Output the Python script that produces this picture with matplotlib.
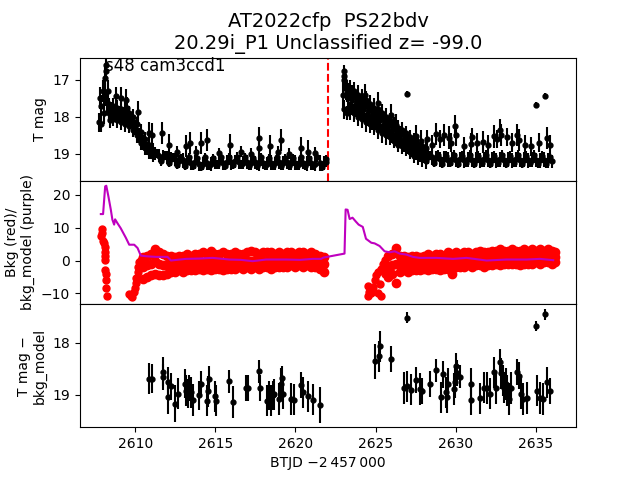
import numpy as np
import matplotlib.pyplot as plt

# ---- top panel: T mag light curve (dense band + brighter points) ----
lc_t = [2607.75, 2607.85, 2608.0, 2608.1, 2608.2, 2608.3, 2608.4, 2608.5, 2608.75, 2609.0,
        2609.25, 2609.5, 2609.75, 2610.0, 2610.25, 2610.5, 2610.75, 2611.0, 2611.25, 2611.5,
        2611.75, 2612.0, 2612.25, 2612.5, 2612.75, 2613.0, 2613.25, 2613.5, 2613.75, 2614.0,
        2614.25, 2614.5, 2614.75, 2615.0, 2615.25, 2615.5, 2615.75, 2616.0, 2616.25, 2616.5,
        2616.75, 2617.0, 2617.25, 2617.5, 2617.75, 2618.0, 2618.25, 2618.5, 2618.75, 2619.0,
        2619.25, 2619.5, 2619.75, 2620.0, 2620.25, 2620.5, 2620.75, 2621.0, 2621.25, 2621.5,
        2621.75, 2621.9,
        2622.95, 2623.05, 2623.15, 2623.3, 2623.5, 2623.75, 2624.0, 2624.25, 2624.5, 2624.75,
        2625.0, 2625.25, 2625.5, 2625.75, 2626.0, 2626.25, 2626.5, 2626.75, 2627.0, 2627.25,
        2627.5, 2627.75, 2628.0, 2628.25, 2628.5, 2628.75, 2629.0, 2629.25, 2629.5, 2629.75,
        2630.0, 2630.25, 2630.5, 2630.75, 2631.0, 2631.25, 2631.5, 2631.75, 2632.0, 2632.25,
        2632.5, 2632.75, 2633.0, 2633.25, 2633.5, 2633.75, 2634.0, 2634.25, 2634.5, 2634.75,
        2635.0, 2635.25, 2635.5, 2635.75, 2636.0]
lc_mag = [18.15, 17.7, 17.3, 16.95, 16.75, 17.3, 17.8, 17.85, 17.95, 17.9,
          18.0, 18.02, 18.1, 18.3, 18.5, 18.7, 18.85, 18.95, 19.0, 19.05,
          19.08, 19.1, 19.14, 19.15, 19.2, 19.18, 19.23, 19.25, 19.22, 19.28,
          19.27, 19.25, 19.28, 19.24, 19.22, 19.25, 19.21, 19.23, 19.2, 19.22,
          19.24, 19.22, 19.25, 19.23, 19.26, 19.24, 19.27, 19.24, 19.26, 19.23,
          19.25, 19.23, 19.26, 19.24, 19.27, 19.24, 19.26, 19.25, 19.27, 19.24,
          19.25, 19.22,
          17.4, 16.9, 17.2, 17.5, 17.55, 17.65, 17.75, 17.8, 17.9, 18.0,
          18.05, 18.1, 18.2, 18.3, 18.4, 18.5, 18.55, 18.65, 18.75, 18.85,
          18.92, 19.0, 19.05, 19.08, 19.1, 19.12, 19.15, 19.13, 19.16, 19.14,
          19.17, 19.15, 19.18, 19.15, 19.17, 19.16, 19.18, 19.15, 19.17, 19.16,
          19.18, 19.15, 19.17, 19.16, 19.18, 19.15, 19.17, 19.16, 19.18, 19.16,
          19.17, 19.18, 19.16, 19.18, 19.2]
lc_err = [0.25, 0.3, 0.3, 0.3, 0.2, 0.3, 0.3, 0.25, 0.2, 0.2,
          0.2, 0.2, 0.2, 0.2, 0.2, 0.2, 0.18, 0.18, 0.18, 0.18,
          0.18, 0.18, 0.18, 0.18, 0.18, 0.2, 0.18, 0.18, 0.2, 0.18,
          0.18, 0.2, 0.18, 0.18, 0.2, 0.18, 0.18, 0.2, 0.18, 0.18,
          0.18, 0.2, 0.18, 0.18, 0.2, 0.18, 0.18, 0.2, 0.18, 0.18,
          0.2, 0.18, 0.18, 0.2, 0.18, 0.18, 0.2, 0.18, 0.2, 0.22,
          0.18, 0.15,
          0.45, 0.2, 0.35, 0.4, 0.4, 0.35, 0.35, 0.35, 0.35, 0.35,
          0.3, 0.3, 0.3, 0.3, 0.3, 0.3, 0.3, 0.3, 0.25, 0.25,
          0.25, 0.22, 0.2, 0.2, 0.2, 0.2, 0.2, 0.2, 0.2, 0.2,
          0.2, 0.2, 0.2, 0.2, 0.2, 0.2, 0.2, 0.2, 0.2, 0.2,
          0.2, 0.2, 0.2, 0.2, 0.2, 0.2, 0.2, 0.2, 0.2, 0.2,
          0.2, 0.2, 0.2, 0.2, 0.18]

# extra cadences filling the thick parts of the band
fill_t = [2607.8, 2607.9, 2608.05, 2608.15, 2608.25, 2608.35, 2608.45,
          2608.625, 2608.625, 2608.875, 2608.875, 2609.125, 2609.125, 2609.375, 2609.375,
          2609.625, 2609.625, 2609.875, 2609.875, 2610.125, 2610.125, 2610.375, 2610.375,
          2610.625, 2610.625, 2610.875, 2610.875, 2611.125, 2611.125,
          2623.0, 2623.0, 2623.2, 2623.2, 2623.375, 2623.375, 2623.625, 2623.625,
          2623.875, 2623.875, 2624.125, 2624.125, 2624.375, 2624.375, 2624.625, 2624.625,
          2624.875, 2624.875, 2625.125, 2625.125, 2625.375, 2625.375, 2625.625, 2625.625,
          2625.875, 2625.875, 2626.125, 2626.125, 2626.375, 2626.375, 2626.625, 2626.625,
          2626.875, 2626.875, 2627.125, 2627.125, 2627.375, 2627.375, 2627.625, 2627.625,
          2627.875, 2627.875, 2628.125, 2628.125]
fill_mag = [17.5, 18.2, 17.9, 17.4, 17.6, 17.9, 18.1,
            18.05, 17.7, 18.1, 17.75, 18.15, 17.8, 18.2, 17.8,
            18.25, 17.9, 18.35, 18.0, 18.5, 18.2, 18.7, 18.4,
            18.85, 18.6, 18.95, 18.75, 19.05, 18.9,
            17.0, 17.8, 17.3, 17.9, 17.25, 17.85, 17.3, 17.9,
            17.4, 18.0, 17.5, 18.05, 17.55, 18.15, 17.65, 18.2,
            17.75, 18.25, 17.8, 18.35, 17.9, 18.45, 18.0, 18.5,
            18.1, 18.55, 18.2, 18.65, 18.3, 18.75, 18.35, 18.8,
            18.45, 18.85, 18.55, 18.95, 18.65, 19.05, 18.75, 19.1,
            18.8, 19.15, 18.85, 19.2]
fill_err = [0.3, 0.2, 0.3, 0.3, 0.3, 0.25, 0.2,
            0.2, 0.2, 0.2, 0.2, 0.2, 0.2, 0.2, 0.2,
            0.2, 0.2, 0.2, 0.2, 0.2, 0.2, 0.2, 0.2,
            0.18, 0.18, 0.18, 0.18, 0.18, 0.18,
            0.3, 0.25, 0.3, 0.2, 0.25, 0.25, 0.25, 0.25,
            0.25, 0.25, 0.25, 0.25, 0.25, 0.25, 0.25, 0.25,
            0.25, 0.25, 0.25, 0.25, 0.25, 0.25, 0.25, 0.25,
            0.2, 0.2, 0.2, 0.2, 0.2, 0.2, 0.2, 0.2,
            0.2, 0.2, 0.2, 0.2, 0.2, 0.2, 0.2, 0.2,
            0.2, 0.2, 0.2, 0.2]

# quiescent cadences in between (small errors)
quiet_t = [2611.375, 2611.625, 2611.875, 2612.125, 2612.375, 2612.625, 2612.875, 2613.125, 2613.375, 2613.625,
           2613.875, 2614.125, 2614.375, 2614.625, 2614.875, 2615.125, 2615.375, 2615.625, 2615.875, 2616.125,
           2616.375, 2616.625, 2616.875, 2617.125, 2617.375, 2617.625, 2617.875, 2618.125, 2618.375, 2618.625,
           2618.875, 2619.125, 2619.375, 2619.625, 2619.875, 2620.125, 2620.375, 2620.625, 2620.875, 2621.125,
           2621.375, 2621.625, 2621.875,
           2628.375, 2628.625, 2628.875, 2629.125, 2629.375, 2629.625, 2629.875, 2630.125, 2630.375, 2630.625,
           2630.875, 2631.125, 2631.375, 2631.625, 2631.875, 2632.125, 2632.375, 2632.625, 2632.875, 2633.125,
           2633.375, 2633.625, 2633.875, 2634.125, 2634.375, 2634.625, 2634.875, 2635.125, 2635.375, 2635.625,
           2635.875]
quiet_mag = [19.0, 19.2, 19.05, 19.25, 19.1, 19.3, 19.12, 19.32, 19.1, 19.33,
             19.12, 19.35, 19.1, 19.33, 19.12, 19.3, 19.1, 19.32, 19.1, 19.3,
             19.08, 19.3, 19.1, 19.32, 19.12, 19.33, 19.1, 19.32, 19.12, 19.33,
             19.1, 19.32, 19.12, 19.33, 19.12, 19.32, 19.1, 19.33, 19.12, 19.33,
             19.1, 19.35, 19.15,
             19.05, 19.25, 19.02, 19.27, 19.05, 19.25, 19.03, 19.27, 19.05, 19.25,
             19.03, 19.27, 19.05, 19.25, 19.03, 19.27, 19.05, 19.25, 19.03, 19.27,
             19.05, 19.25, 19.03, 19.27, 19.05, 19.25, 19.03, 19.27, 19.05, 19.27,
             19.1]
quiet_err = 0.12

spike_t = [2608.2, 2608.79, 2609.1, 2609.4, 2609.52, 2610.15, 2610.88, 2611.08, 2611.7, 2612.1,
           2613.2, 2613.4, 2614.1, 2614.5, 2615.9, 2617.75, 2617.75, 2618.4, 2619.1, 2620.35,
           2620.8,
           2612.6, 2613.8, 2615.2, 2616.6, 2617.2, 2618.9, 2619.6, 2621.2,
           2623.05, 2623.9, 2624.31, 2625.15, 2625.94, 2626.29, 2626.96, 2627.54, 2627.85, 2628.75,
           2629.25, 2629.58, 2629.94, 2630.0, 2630.98, 2631.71, 2632.38, 2632.75, 2632.85, 2633.79,
           2633.96, 2635.0, 2635.58, 2635.67,
           2628.2, 2628.5, 2629.0, 2629.7, 2630.5, 2631.0, 2631.3, 2632.0, 2632.6, 2633.2,
           2633.5, 2634.3, 2634.7, 2635.2, 2635.9]
spike_mag = [16.6, 17.45, 17.5, 17.55, 17.77, 17.86, 18.44, 18.48, 18.44, 18.76,
             18.8, 18.71, 18.71, 18.62, 18.76, 18.58, 18.85, 18.8, 18.62, 18.85,
             18.94,
             18.95, 18.95, 18.98, 18.95, 19.0, 18.95, 19.0, 18.97,
             16.75, 17.59, 17.41, 17.63, 17.95, 18.22, 17.38, 18.53, 18.65, 18.47,
             18.49, 18.56, 18.26, 18.49, 18.74, 18.69, 18.53, 18.35, 18.49, 18.49,
             18.62, 17.68, 17.43, 18.58,
             18.6, 18.75, 18.6, 18.7, 18.8, 18.55, 18.7, 18.75, 18.6, 18.55,
             18.7, 18.75, 18.8, 18.7, 18.75]
spike_err = [0.15, 0.25, 0.3, 0.3, 0.3, 0.3, 0.3, 0.3, 0.3, 0.3,
             0.3, 0.3, 0.3, 0.3, 0.3, 0.3, 0.3, 0.3, 0.3, 0.3,
             0.3,
             0.15, 0.15, 0.15, 0.15, 0.15, 0.15, 0.15, 0.15,
             0.15, 0.3, 0.3, 0.3, 0.3, 0.3, 0.08, 0.3, 0.3, 0.3,
             0.3, 0.3, 0.3, 0.3, 0.3, 0.3, 0.3, 0.3, 0.3, 0.3,
             0.3, 0.08, 0.08, 0.3,
             0.25, 0.25, 0.25, 0.25, 0.25, 0.25, 0.25, 0.25, 0.25, 0.25,
             0.25, 0.25, 0.25, 0.25, 0.25]

# ---- middle panel: background (red) ----
bkg_t = [2607.95, 2607.95, 2607.9, 2608.0, 2608.05, 2608.1, 2608.12, 2608.15, 2608.15, 2608.15,
         2608.2, 2608.2, 2608.2, 2608.25,
         2609.63, 2609.73, 2609.83, 2609.94, 2610.0, 2610.04, 2610.08, 2610.15, 2610.2, 2610.25,
         2610.35,
         2624.5, 2624.5, 2624.6, 2624.73, 2624.85, 2624.94, 2625.05, 2625.15, 2625.15, 2625.25,
         2625.35, 2625.35, 2625.45, 2625.56, 2625.56, 2625.65]
bkg_v = [9.5, 8.5, 7.4, 6.0, 5.2, 4.0, 2.7, 1.5, 0.3, -2.9,
         -4.0, -5.8, -8.3, -10.8,
         -10.3, -10.8, -11.2, -9.7, -8.2, -6.7, -5.2, -3.6, -2.1, -0.6,
         0.3,
         -7.8, -10.8, -9.5, -9.8, -8.0, -5.8, -4.5, -3.6, -10.0, -7.0,
         -10.8, -2.6, -1.0, 0.3, -4.0, -1.5]

band_t = [2610.5, 2610.75, 2611.0, 2611.25, 2611.5, 2611.75, 2612.0, 2612.25, 2612.5, 2612.75,
          2613.0, 2613.25, 2613.5, 2613.75, 2614.0, 2614.25, 2614.5, 2614.75, 2615.0, 2615.25,
          2615.5, 2615.75, 2616.0, 2616.25, 2616.5, 2616.75, 2617.0, 2617.25, 2617.5, 2617.75,
          2618.0, 2618.25, 2618.5, 2618.75, 2619.0, 2619.25, 2619.5, 2619.75, 2620.0, 2620.25,
          2620.5, 2620.75, 2621.0, 2621.25, 2621.5, 2621.75,
          2625.75, 2626.0, 2626.25, 2626.5, 2626.75, 2627.0, 2627.25, 2627.5, 2627.75, 2628.0,
          2628.25, 2628.5, 2628.75, 2629.0, 2629.25, 2629.5, 2629.75, 2630.0, 2630.25, 2630.5,
          2630.75, 2631.0, 2631.25, 2631.5, 2631.75, 2632.0, 2632.25, 2632.5, 2632.75, 2633.0,
          2633.25, 2633.5, 2633.75, 2634.0, 2634.25, 2634.5, 2634.75, 2635.0, 2635.25, 2635.5,
          2635.75, 2636.0, 2636.2]
band_hi = [1.0, 1.5, 2.0, 3.5, 2.5, 2.0, 1.5, 1.5, 1.0, 1.5,
           1.5, 2.0, 1.5, 2.0, 2.0, 2.5, 2.0, 3.0, 2.0, 2.0,
           2.5, 2.0, 2.0, 2.5, 2.0, 2.0, 2.5, 3.0, 2.5, 2.0,
           2.5, 2.5, 2.5, 2.0, 2.5, 2.0, 2.5, 2.5, 2.0, 2.5,
           2.5, 2.0, 2.5, 2.0, 1.5, 1.0,
           1.5, 2.0, 3.8, 1.5, 1.5, 1.0, 1.5, 1.5, 1.0, 1.5,
           2.0, 1.5, 2.0, 2.0, 1.5, 2.5, 2.0, 2.5, 2.0, 2.5,
           2.5, 2.0, 2.5, 3.0, 2.5, 2.5, 3.0, 3.0, 3.5, 3.0,
           3.0, 3.5, 3.0, 3.0, 3.5, 3.0, 3.5, 3.0, 3.5, 3.0,
           3.5, 3.0, 2.5]
band_mid = [-2.0, -1.5, -1.0, 0.0, -1.0, -1.5, -1.5, -1.0, -1.5, -1.0,
            -1.0, -0.5, -1.0, -0.5, -0.5, -0.5, 0.0, -0.5, -0.5, 0.0,
            -0.5, 0.0, -0.5, 0.0, 0.0, -0.5, 0.0, 0.0, 0.0, -0.5,
            0.0, 0.0, 0.0, 0.0, 0.5, 0.0, 0.0, 0.5, 0.0, 0.5,
            0.0, 0.5, 0.0, 0.0, -0.5, -1.0,
            -2.0, -1.5, -1.0, -1.0, -1.5, -1.0, -1.0, -0.5, -1.0, -0.5,
            -0.5, 0.0, -0.5, 0.0, -0.5, 0.0, -0.5, 0.0, 0.5, 0.0,
            0.5, 0.0, 0.5, 0.5, 0.0, 0.5, 1.0, 0.5, 1.0, 1.0,
            0.5, 1.0, 1.0, 1.0, 1.0, 1.0, 1.5, 1.0, 1.0, 1.5,
            1.0, 1.0, 1.0]
band_lo = [-5.5, -5.0, -4.5, -4.0, -4.5, -4.5, -4.0, -3.5, -3.5, -3.0,
           -3.5, -3.0, -3.0, -3.0, -2.5, -3.0, -2.5, -3.0, -2.5, -2.5,
           -3.0, -2.5, -2.5, -2.5, -2.0, -2.5, -2.0, -2.5, -2.0, -2.5,
           -2.0, -2.0, -2.5, -2.0, -2.0, -2.0, -2.0, -1.5, -2.0, -1.5,
           -2.0, -1.5, -2.0, -2.0, -2.5, -3.5,
           -5.0, -4.0, -6.8, -3.5, -3.0, -3.5, -3.0, -3.0, -3.0, -2.5,
           -3.0, -2.5, -2.5, -3.0, -2.5, -2.5, -4.2, -2.0, -2.0, -2.0,
           -1.5, -2.0, -1.5, -1.5, -2.0, -1.5, -1.5, -1.0, -1.5, -1.0,
           -1.0, -1.0, -1.0, -1.5, -1.0, -1.0, -1.0, -0.5, -1.0, -0.5,
           -0.5, -1.0, -0.5]

# background model (purple)
model_t = [2607.86, 2608.0, 2608.13, 2608.2, 2608.33, 2608.48, 2608.58, 2608.69, 2608.75, 2608.9,
           2609.1, 2609.42, 2609.63, 2609.94, 2610.15, 2610.35, 2610.67, 2611.29, 2612.02, 2612.23,
           2613.17, 2614.0, 2614.83, 2615.88, 2616.6, 2617.33, 2618.17, 2619.42, 2620.3, 2621.08,
           2621.6, 2621.75, 2623.06, 2623.13, 2623.25, 2623.38, 2623.56, 2623.77, 2623.94, 2624.2,
           2624.4, 2624.73, 2624.94, 2625.25, 2625.56, 2625.88, 2626.19, 2626.5, 2626.92, 2627.33,
           2627.75, 2628.79, 2629.83, 2630.67, 2631.92, 2633.17, 2634.42, 2635.25, 2636.08]
model_v = [14.1, 14.1, 22.5, 22.7, 19.5, 15.5, 12.4, 10.9, 12.5, 11.3,
           9.8, 6.9, 4.8, 4.8, 3.8, 1.5, 1.3, 1.1, 1.1, 0.0,
           0.5, 0.6, 0.8, 0.3, 0.2, -0.2, 0.3, 0.3, 0.2, 0.5,
           0.5, 0.9, 2.1, 15.5, 15.4, 12.6, 13.0, 11.8, 10.9, 10.2,
           6.6, 5.4, 5.2, 4.4, 2.8, 2.5, 2.8, 2.1, 1.8, 1.1,
           0.8, 0.8, 0.5, 0.8, 0.0, 0.3, 0.3, 0.5, 0.1]

# ---- bottom panel: T mag - bkg_model ----
sub_t = [2610.88, 2611.08, 2611.71, 2611.71, 2612.08, 2612.08, 2612.23, 2612.50, 2612.65, 2613.12,
         2613.17, 2613.27, 2613.38, 2613.50, 2613.58, 2613.96, 2614.10, 2614.46, 2614.52, 2614.58,
         2615.00, 2615.04, 2615.88, 2616.08, 2616.92, 2617.02, 2617.75, 2617.77, 2618.21, 2618.38,
         2618.48, 2618.58, 2618.69, 2619.00, 2619.10, 2619.17, 2619.25, 2619.73, 2619.94, 2620.35,
         2620.46, 2620.77, 2621.08, 2621.50,
         2624.94, 2625.21, 2625.27, 2625.94, 2626.96, 2626.75, 2626.98, 2627.23, 2627.54, 2627.75,
         2627.90, 2628.42, 2628.75, 2629.06, 2629.21, 2629.38, 2629.46, 2629.52, 2629.88, 2629.94,
         2630.00, 2630.08, 2630.29, 2630.98, 2630.98, 2631.50, 2631.75, 2631.92, 2632.13, 2632.38,
         2632.54, 2632.75, 2632.85, 2632.92, 2633.00, 2633.13, 2633.21, 2633.33, 2633.42, 2633.83,
         2633.96, 2634.06, 2634.17, 2634.46, 2635.00, 2635.04, 2635.25, 2635.46, 2635.58, 2635.67,
         2635.88]
sub_mag = [18.69, 18.69, 18.56, 18.65, 18.76, 19.05, 18.84, 19.17, 18.98, 18.79,
           18.92, 18.98, 18.87, 18.95, 19.10, 19.01, 18.79, 19.11, 18.93, 18.70,
           19.03, 19.11, 18.74, 19.14, 18.87, 18.87, 18.55, 18.87, 19.11, 19.01,
           19.11, 19.01, 18.99, 19.08, 18.79, 18.67, 18.98, 19.08, 19.09, 18.82,
           18.95, 19.03, 19.09, 19.19,
           18.36, 18.26, 18.07, 18.31, 17.52, 18.87, 18.84, 18.90, 18.71, 18.89,
           18.92, 18.79, 18.53, 19.05, 18.61, 18.95, 19.05, 18.79, 18.89, 18.76,
           18.45, 18.59, 18.65, 18.79, 19.09, 19.07, 18.86, 18.87, 18.98, 18.57,
           18.87, 18.37, 18.59, 18.73, 18.86, 18.79, 18.92, 19.08, 18.87, 18.57,
           18.63, 18.98, 19.08, 19.06, 17.68, 18.92, 19.06, 19.08, 17.46, 18.76,
           18.93]
sub_err = [0.3, 0.28, 0.28, 0.25, 0.3, 0.32, 0.25, 0.35, 0.3, 0.28,
           0.3, 0.28, 0.25, 0.3, 0.3, 0.28, 0.25, 0.3, 0.3, 0.25,
           0.3, 0.3, 0.22, 0.3, 0.25, 0.25, 0.22, 0.25, 0.3, 0.28,
           0.3, 0.28, 0.3, 0.3, 0.3, 0.22, 0.3, 0.3, 0.3, 0.25,
           0.3, 0.3, 0.3, 0.34,
           0.34, 0.3, 0.3, 0.25, 0.1, 0.3, 0.3, 0.3, 0.25, 0.3,
           0.25, 0.25, 0.22, 0.3, 0.25, 0.3, 0.3, 0.3, 0.3, 0.3,
           0.25, 0.25, 0.22, 0.3, 0.3, 0.3, 0.3, 0.3, 0.3, 0.3,
           0.3, 0.25, 0.3, 0.3, 0.3, 0.3, 0.3, 0.3, 0.3, 0.25,
           0.25, 0.3, 0.3, 0.3, 0.1, 0.3, 0.3, 0.3, 0.1, 0.3,
           0.25]

peak_time = 2622.0

fig, (ax1, ax2, ax3) = plt.subplots(3, 1, sharex=True, figsize=(6.4, 4.8))
fig.subplots_adjust(hspace=0)

# top panel
ax1.errorbar(lc_t, lc_mag, yerr=lc_err, fmt='ko', ms=3.5)
ax1.errorbar(fill_t, fill_mag, yerr=fill_err, fmt='ko', ms=3.5)
ax1.errorbar(quiet_t, quiet_mag, yerr=quiet_err, fmt='ko', ms=3.5)
ax1.errorbar(spike_t, spike_mag, yerr=spike_err, fmt='ko', ms=3.5)
ax1.axvline(peak_time, color='r', ls='--', lw=1.5)
ax1.set_ylim(19.73, 16.4)
ax1.set_ylabel("T mag")
ax1.set_title("AT2022cfp  PS22bdv\n20.29i_P1 Unclassified z= -99.0", fontsize=14)
ax1.text(0.05, 0.89, "s48 cam3ccd1", transform=ax1.transAxes, fontsize=12)

# middle panel
ax2.plot(bkg_t, bkg_v, 'ro', ms=5)
ax2.plot(band_t, band_hi, 'ro', ms=6)
ax2.plot(band_t, band_mid, 'ro', ms=6)
ax2.plot(band_t, band_lo, 'ro', ms=6)
ax2.plot(model_t, model_v, color='m', lw=1.5)
ax2.set_ylim(-13.2, 24.2)
ax2.set_ylabel("Bkg (red)/\nbkg_model (purple)")

# bottom panel
ax3.errorbar(sub_t, sub_mag, yerr=sub_err, fmt='ko', ms=3.5)
ax3.set_ylim(19.62, 17.26)
ax3.set_ylabel("T mag \u2212\nbkg_model")
ax3.set_xlabel("BTJD \u22122\u2009457\u2009000")
ax3.set_xlim(2606.56, 2637.5)

plt.savefig("out.png", dpi=100)
